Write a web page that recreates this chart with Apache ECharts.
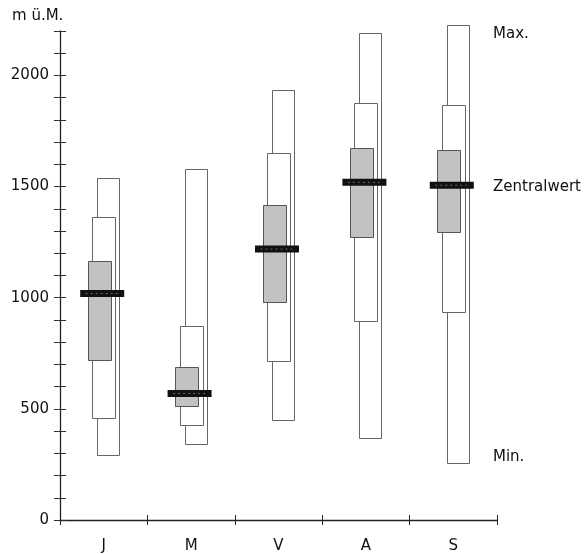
<!DOCTYPE html>
<html><head><meta charset="utf-8">
<script src="https://cdn.jsdelivr.net/npm/echarts@6/dist/echarts.min.js"></script>
<style>html,body{margin:0;padding:0;background:#fff}#c{width:587px;height:554px}</style>
</head><body><div id="c"></div>
<script>
const categories = ['J', 'M', 'V', 'A', 'S'];
const minValues    = [291, 341, 450, 371, 257];
const maxValues    = [1539, 1579, 1934, 2192, 2226];
const lowerOuter   = [458, 431, 716, 892, 937];
const upperOuter   = [1362, 875, 1652, 1875, 1868];
const lowerQuart   = [717, 515, 979, 1273, 1293];
const upperQuart   = [1163, 690, 1417, 1672, 1663];
const medians      = [1019, 569, 1219, 1519, 1506];
const yTickLabels  = [0, 500, 1000, 1500, 2000];

const data = categories.map((c, i) => [i, minValues[i], maxValues[i], lowerOuter[i], upperOuter[i], lowerQuart[i], upperQuart[i], medians[i]]);

const FONT = '"DejaVu Sans", sans-serif';
const chart = echarts.init(document.getElementById('c'), null, {renderer: 'canvas'});

function rectFor(api, idx, lo, hi, dx, w) {
  const p1 = api.coord([idx, hi]);
  const p2 = api.coord([idx, lo]);
  return {x: Math.round(p1[0] + dx - w / 2) + 0.5, y: Math.round(p1[1]) + 0.5, width: w, height: Math.round(p2[1] - p1[1])};
}

chart.setOption({
  animation: false,
  grid: {left: 60, right: 90, top: 31, bottom: 34},
  xAxis: [{
    type: 'category', data: categories, position: 'bottom',
    axisLine: {lineStyle: {color: '#222', width: 1.3}},
    axisTick: {show: true, length: 5, lineStyle: {color: '#222'}},
    axisLabel: {color: '#111', fontSize: 15, fontFamily: FONT, margin: 19},
    splitLine: {show: false}
  }, {
    type: 'category', data: categories, position: 'bottom',
    axisLine: {show: false},
    axisTick: {show: true, inside: true, length: 5, lineStyle: {color: '#222'}},
    axisLabel: {show: false}, splitLine: {show: false}
  }],
  yAxis: [{
    type: 'value', min: 0, max: 2200, interval: 100, position: 'left',
    axisLine: {show: true, lineStyle: {color: '#222', width: 1.3}},
    axisTick: {show: true, length: 6, lineStyle: {color: '#333'}},
    axisLabel: {color: '#111', fontSize: 15, fontFamily: FONT, margin: 11,
      formatter: v => yTickLabels.indexOf(v) >= 0 ? String(v) : ''},
    splitLine: {show: false}
  }, {
    type: 'value', min: 0, max: 2200, interval: 100, position: 'left', offset: 0,
    axisLine: {show: false},
    axisTick: {show: true, inside: true, length: 6, lineStyle: {color: '#333'}},
    axisLabel: {show: false}, splitLine: {show: false}
  }],
  series: [{
    type: 'custom',
    xAxisIndex: 0, yAxisIndex: 0,
    clip: false,
    data: data,
    renderItem: function (params, api) {
      const i = api.value(0);
      const outer = rectFor(api, i, api.value(1), api.value(2), 4.5, 22);
      const mid = rectFor(api, i, api.value(3), api.value(4), 0, 23);
      const quart = rectFor(api, i, api.value(5), api.value(6), -4.5, 23);
      const m = api.coord([i, api.value(7)]);
      return {type: 'group', children: [
        {type: 'rect', shape: outer, style: {fill: '#fff', stroke: '#666', lineWidth: 1}},
        {type: 'rect', shape: mid, style: {fill: '#fff', stroke: '#666', lineWidth: 1}},
        {type: 'rect', shape: quart, style: {fill: '#c2c2c2', stroke: '#555', lineWidth: 1}},
        {type: 'rect', shape: {x: m[0] - 1.5 - 22, y: m[1] - 3.5, width: 44, height: 7}, style: {fill: '#111'}},
        {type: 'line', shape: {x1: m[0] - 18, y1: m[1], x2: m[0] + 16, y2: m[1]}, style: {stroke: '#666', lineWidth: 1, lineDash: [2, 3]}}
      ]};
    }
  }],
  graphic: [
    {type: 'text', left: 12, top: 9, style: {text: 'm ü.M.', fontSize: 15, fontFamily: FONT, fill: '#111'}},
    {type: 'text', left: 493, top: 27, style: {text: 'Max.', fontSize: 15, fontFamily: FONT, fill: '#111'}},
    {type: 'text', left: 493, top: 180, style: {text: 'Zentralwert', fontSize: 15, fontFamily: FONT, fill: '#111'}},
    {type: 'text', left: 493, top: 450, style: {text: 'Min.', fontSize: 15, fontFamily: FONT, fill: '#111'}}
  ]
});
</script>
</body></html>
